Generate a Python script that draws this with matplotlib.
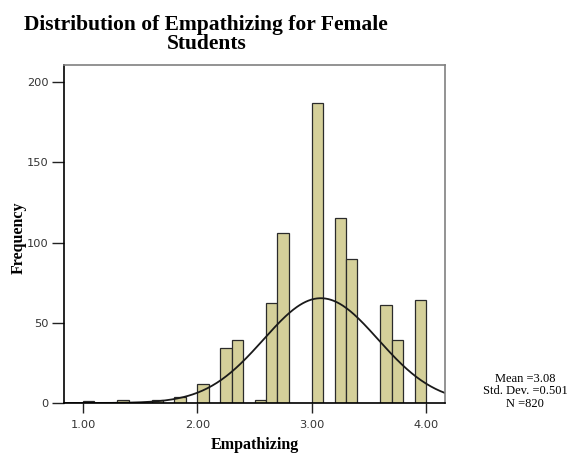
import numpy as np
import matplotlib
matplotlib.use("Agg")
import matplotlib.pyplot as plt

# Histogram bins (width 0.1) and counts for female students
bin_edges = [1.0, 1.1, 1.2, 1.3, 1.4, 1.5, 1.6, 1.7, 1.8, 1.9, 2.0,
             2.1, 2.2, 2.3, 2.4, 2.5, 2.6, 2.7, 2.8, 2.9, 3.0,
             3.1, 3.2, 3.3, 3.4, 3.5, 3.6, 3.7, 3.8, 3.9, 4.0]
counts = [1, 0, 0, 2, 0, 0, 2, 0, 4, 0,
          12, 0, 34, 39, 0, 2, 62, 106, 0, 0,
          187, 0, 115, 90, 0, 0, 61, 39, 0, 64]

mean_val = 3.08
std_val = 0.501
n_val = 820

xticks = [1.0, 2.0, 3.0, 4.0]
yticks = [0, 50, 100, 150, 200]

bar_color = "#d5d09a"
serif = "Liberation Serif"

fig = plt.figure(figsize=(5.76, 4.59), dpi=100)
ax = fig.add_axes([0.1111, 0.122, 0.6615, 0.7364])

widths = np.diff(bin_edges)
ax.bar(bin_edges[:-1], counts, width=widths, align="edge",
       color=bar_color, edgecolor="#2b2b2b", linewidth=0.9)

# normal curve scaled to the histogram
xs = np.linspace(0.834, 4.166, 400)
bw = bin_edges[1] - bin_edges[0]
ys = n_val * bw / (std_val * np.sqrt(2 * np.pi)) * np.exp(-0.5 * ((xs - mean_val) / std_val) ** 2)
ax.plot(xs, ys, color="#1a1a1a", linewidth=1.3)

ax.set_xlim(0.834, 4.166)
ax.set_ylim(0, 210.6)
ax.set_xticks(xticks)
ax.set_xticklabels([f"{t:.2f}" for t in xticks])
ax.set_yticks(yticks)
ax.tick_params(direction="out", width=1, colors="#222222",
               labelsize=8.2, labelcolor="#333333")
ax.tick_params(axis="x", length=7, pad=5)
ax.tick_params(axis="y", length=9, pad=2)

for side in ("left", "bottom"):
    ax.spines[side].set_color("black")
    ax.spines[side].set_linewidth(1.2)
for side in ("top", "right"):
    ax.spines[side].set_color("#808080")
    ax.spines[side].set_linewidth(1.2)

ax.set_xlabel("Empathizing", family=serif, fontweight="bold", fontsize=11.5, labelpad=5)
ax.set_ylabel("Frequency", family=serif, fontweight="bold", fontsize=11.5)
ax.yaxis.set_label_coords(-0.099, 0.49)

fig.text(0.358, 0.968, "Distribution of Empathizing for Female\nStudents",
         family=serif, fontweight="bold", fontsize=15.5, ha="center", va="top",
         linespacing=0.95)

fig.text(0.912, 0.148, f"Mean ={mean_val:.2f}\nStd. Dev. ={std_val:.3f}\nN ={n_val}",
         family=serif, fontsize=9, ha="center", va="center", linespacing=1.05)

fig.savefig("out.png", dpi=100)
